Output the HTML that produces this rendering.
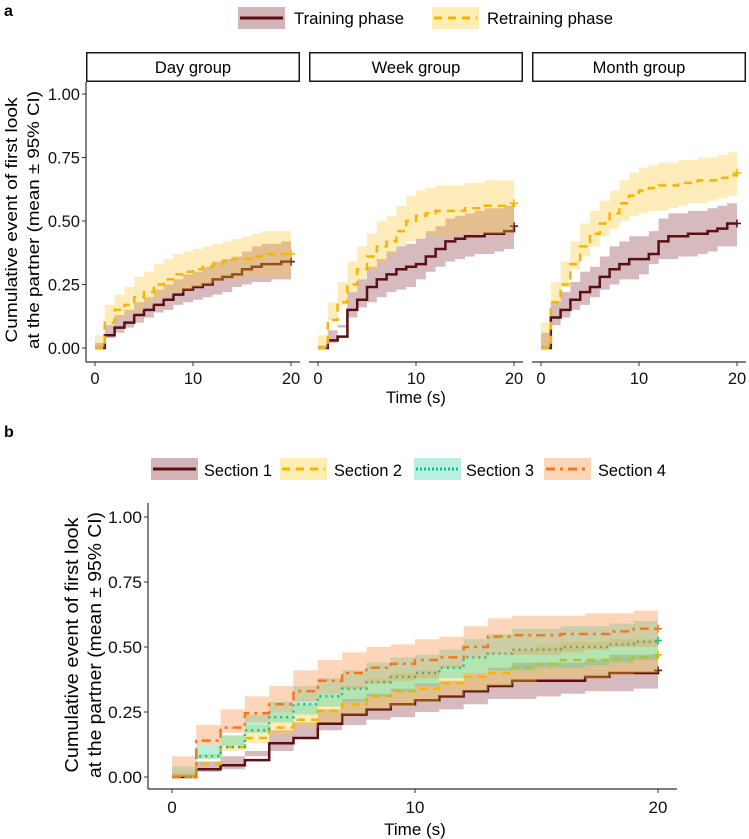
<!DOCTYPE html>
<html><head><meta charset="utf-8">
<style>
html,body{margin:0;padding:0;background:#fff;}
svg{display:block;font-family:"Liberation Sans",Arial,sans-serif;}
</style></head>
<body>
<svg id="chart" width="749" height="839" viewBox="0 0 749 839" xmlns="http://www.w3.org/2000/svg"></svg>
<script>
const times = [0,1,2,3,4,5,6,7,8,9,10,11,12,13,14,15,16,17,18,19,20];
const groupNames = ["Day group","Week group","Month group"];
const phaseNames = ["Training phase","Retraining phase"];
const yTicks = [0,0.25,0.5,0.75,1];
const yTickLabels = ["0.00","0.25","0.50","0.75","1.00"];
const xTicks = [0,10,20];
const xTickLabels = ["0","10","20"];

// Panel a: Day group
const dayTrain   = [0,0.05,0.08,0.10,0.13,0.15,0.17,0.19,0.21,0.23,0.24,0.25,0.27,0.28,0.29,0.31,0.32,0.33,0.33,0.34,0.34];
const dayTrainLo = [0,0.02,0.04,0.06,0.08,0.10,0.12,0.14,0.15,0.17,0.18,0.19,0.20,0.21,0.22,0.24,0.25,0.26,0.26,0.27,0.27];
const dayTrainHi = [0,0.09,0.13,0.15,0.18,0.20,0.23,0.25,0.27,0.29,0.30,0.32,0.34,0.35,0.36,0.38,0.40,0.41,0.41,0.42,0.42];
const dayRetr    = [0,0.10,0.15,0.17,0.20,0.22,0.25,0.27,0.29,0.30,0.31,0.32,0.33,0.34,0.35,0.35,0.36,0.37,0.37,0.37,0.37];
const dayRetrLo  = [0,0.05,0.09,0.11,0.13,0.15,0.17,0.19,0.21,0.22,0.23,0.24,0.25,0.26,0.27,0.27,0.28,0.28,0.28,0.28,0.28];
const dayRetrHi  = [0,0.17,0.21,0.24,0.28,0.30,0.33,0.35,0.37,0.38,0.39,0.40,0.41,0.42,0.43,0.44,0.45,0.46,0.46,0.46,0.46];
// Week group
const weekTrain   = [0,0.03,0.045,0.15,0.19,0.24,0.27,0.29,0.31,0.32,0.33,0.36,0.39,0.42,0.43,0.44,0.44,0.45,0.45,0.46,0.48];
const weekTrainLo = [0,0.01,0.02,0.08,0.12,0.16,0.18,0.20,0.22,0.23,0.24,0.27,0.30,0.32,0.34,0.35,0.36,0.37,0.37,0.38,0.39];
const weekTrainHi = [0,0.07,0.09,0.22,0.27,0.32,0.35,0.38,0.40,0.41,0.43,0.46,0.48,0.51,0.52,0.53,0.54,0.55,0.55,0.56,0.58];
const weekRetr    = [0,0.11,0.18,0.25,0.31,0.36,0.40,0.42,0.46,0.50,0.52,0.53,0.54,0.54,0.54,0.55,0.55,0.56,0.56,0.56,0.57];
const weekRetrLo  = [0,0.05,0.11,0.17,0.22,0.27,0.31,0.33,0.36,0.40,0.42,0.43,0.44,0.44,0.44,0.45,0.45,0.45,0.45,0.45,0.45];
const weekRetrHi  = [0,0.18,0.26,0.34,0.40,0.45,0.50,0.52,0.56,0.60,0.62,0.63,0.64,0.64,0.64,0.65,0.65,0.66,0.66,0.66,0.66];
// Month group
const monthTrain   = [0,0.12,0.15,0.19,0.22,0.24,0.28,0.31,0.33,0.35,0.35,0.37,0.42,0.44,0.44,0.45,0.45,0.46,0.47,0.49,0.49];
const monthTrainLo = [0,0.06,0.09,0.12,0.15,0.17,0.20,0.23,0.25,0.27,0.27,0.29,0.33,0.35,0.35,0.36,0.36,0.37,0.38,0.40,0.40];
const monthTrainHi = [0,0.18,0.22,0.26,0.30,0.32,0.36,0.40,0.42,0.44,0.44,0.46,0.51,0.53,0.53,0.54,0.54,0.55,0.56,0.57,0.57];
const monthRetr    = [0,0.18,0.25,0.33,0.40,0.45,0.49,0.53,0.57,0.60,0.62,0.63,0.64,0.64,0.65,0.65,0.66,0.66,0.67,0.68,0.69];
const monthRetrLo  = [0,0.10,0.17,0.24,0.31,0.36,0.40,0.44,0.47,0.50,0.52,0.53,0.54,0.54,0.55,0.56,0.57,0.57,0.58,0.59,0.60];
const monthRetrHi  = [0,0.26,0.34,0.42,0.49,0.54,0.58,0.62,0.66,0.69,0.71,0.72,0.73,0.73,0.74,0.74,0.75,0.75,0.76,0.77,0.77];

// Panel b: sections
const sectionNames = ["Section 1","Section 2","Section 3","Section 4"];
const s1   = [0,0.03,0.045,0.065,0.13,0.15,0.205,0.24,0.26,0.28,0.295,0.31,0.33,0.35,0.37,0.37,0.37,0.385,0.40,0.40,0.41];
const s1Lo = [0,0.01,0.02,0.03,0.08,0.10,0.15,0.18,0.20,0.22,0.23,0.25,0.26,0.28,0.30,0.30,0.31,0.32,0.33,0.33,0.34];
const s1Hi = [0,0.06,0.08,0.10,0.18,0.21,0.26,0.30,0.32,0.34,0.36,0.37,0.40,0.42,0.44,0.44,0.44,0.45,0.47,0.47,0.48];
const s2   = [0,0.05,0.115,0.15,0.19,0.22,0.255,0.28,0.31,0.33,0.34,0.36,0.385,0.40,0.42,0.435,0.45,0.45,0.455,0.46,0.47];
const s2Lo = [0,0.02,0.07,0.10,0.13,0.16,0.19,0.21,0.24,0.26,0.27,0.29,0.31,0.33,0.35,0.36,0.38,0.38,0.38,0.39,0.40];
const s2Hi = [0,0.09,0.16,0.20,0.25,0.28,0.32,0.35,0.38,0.40,0.41,0.43,0.46,0.47,0.49,0.51,0.52,0.52,0.53,0.53,0.54];
const s3   = [0,0.08,0.115,0.18,0.23,0.28,0.31,0.34,0.365,0.385,0.40,0.42,0.46,0.475,0.49,0.49,0.50,0.50,0.51,0.52,0.525];
const s3Lo = [0,0.04,0.07,0.12,0.17,0.21,0.24,0.27,0.29,0.31,0.33,0.35,0.38,0.40,0.41,0.41,0.42,0.42,0.43,0.44,0.45];
const s3Hi = [0,0.12,0.16,0.24,0.29,0.35,0.38,0.41,0.44,0.46,0.47,0.49,0.53,0.55,0.57,0.57,0.58,0.58,0.59,0.60,0.60];
const s4   = [0,0.14,0.19,0.245,0.28,0.33,0.37,0.40,0.42,0.435,0.45,0.46,0.50,0.54,0.545,0.545,0.55,0.55,0.56,0.57,0.57];
const s4Lo = [0,0.08,0.12,0.17,0.21,0.25,0.29,0.32,0.34,0.36,0.37,0.38,0.42,0.46,0.47,0.47,0.47,0.48,0.49,0.50,0.50];
const s4Hi = [0,0.20,0.26,0.31,0.35,0.41,0.45,0.48,0.50,0.51,0.53,0.54,0.58,0.61,0.62,0.62,0.62,0.63,0.63,0.64,0.64];

const NS = "http://www.w3.org/2000/svg";
const svg = document.getElementById("chart");
function mk(tag, attrs, parent){ const e=document.createElementNS(NS,tag); for(const k in attrs) e.setAttribute(k,attrs[k]); (parent||svg).appendChild(e); return e; }
function txt(s, attrs, parent){ const e=mk("text",attrs,parent); e.textContent=s; return e; }

function stepLine(ts, vs, xs, ys){
  let d="M"+xs(ts[0])+","+ys(vs[0]);
  for(let i=1;i<ts.length;i++){ d+=" H"+xs(ts[i])+" V"+ys(vs[i]); }
  return d;
}
function stepBand(ts, lo, hi, xs, ys){
  let d="M"+xs(ts[0])+","+ys(hi[0]);
  for(let i=1;i<ts.length;i++){ d+=" H"+xs(ts[i])+" V"+ys(hi[i]); }
  d+=" V"+ys(lo[ts.length-1]);
  for(let i=ts.length-1;i>0;i--){ d+=" V"+ys(lo[i])+" H"+xs(ts[i-1]); }
  d+=" V"+ys(lo[0])+" Z";
  return d;
}
function series(g, name, mean, lo, hi, xs, ys, fill, stroke, dash, lw){
  const band=mk("path",{d:stepBand(times,lo,hi,xs,ys),fill:fill,"fill-opacity":"0.35",stroke:"none"},g);
  
  
  const ln=mk("path",{d:stepLine(times,mean,xs,ys),fill:"none",stroke:stroke,"stroke-width":lw,"stroke-dasharray":dash},g);
  
  
  const n=times.length-1, cx=xs(times[n]), cy=ys(mean[n]);
  const pl=mk("path",{d:"M"+(cx-4)+","+cy+" H"+(cx+4)+" M"+cx+","+(cy-4)+" V"+(cy+4),stroke:stroke,"stroke-width":1.5},g);
  
  
}

const C_TR="#5a0f12", F_TR="#8a3a44", C_RE="#f7b500", F_RE="#fcc93a";
const C_S3="#12c08c", F_S3="#2ed6a6", C_S4="#f4781e", F_S4="#f98a3a";
const FA=16.5;

txt("a",{x:4,y:16,"font-size":16,"font-weight":"bold"});
txt("b",{x:4,y:437,"font-size":16,"font-weight":"bold"});

// Legend a
(function(){
  const g=mk("g",{});
  mk("rect",{x:238,y:7,width:47,height:22,fill:"#d3b4b8"},g);
  mk("line",{x1:240,y1:18,x2:283,y2:18,stroke:C_TR,"stroke-width":3},g);
  txt(phaseNames[0],{x:294,y:24,"font-size":FA,textLength:110,lengthAdjust:"spacingAndGlyphs"},g);
  mk("rect",{x:432,y:7,width:47,height:22,fill:"#feeeb4"},g);
  mk("line",{x1:434,y1:18,x2:477,y2:18,stroke:C_RE,"stroke-width":3,"stroke-dasharray":"8,6"},g);
  txt(phaseNames[1],{x:487,y:24,"font-size":FA,textLength:126,lengthAdjust:"spacingAndGlyphs"},g);
})();

// Panel a facets
const y0a=348, y1a=94;
const ysA=v=>y0a+(y1a-y0a)*v;
const facets=[
  {left:86,right:300,px0:95,train:[dayTrain,dayTrainLo,dayTrainHi],retr:[dayRetr,dayRetrLo,dayRetrHi]},
  {left:309,right:523,px0:318,train:[weekTrain,weekTrainLo,weekTrainHi],retr:[weekRetr,weekRetrLo,weekRetrHi]},
  {left:532,right:746,px0:541,train:[monthTrain,monthTrainLo,monthTrainHi],retr:[monthRetr,monthRetrLo,monthRetrHi]}
];
facets.forEach((f,i)=>{
  const key=groupNames[i].split(" ")[0].toLowerCase();
  const g=mk("g",{});
  const xs=t=>f.px0+t*(196/20);
  mk("rect",{x:f.left+0.75,y:52.75,width:f.right-f.left-1.5,height:28.5,fill:"#fff",stroke:"#1a1a1a","stroke-width":1.5,},g);
  txt(groupNames[i],{x:(f.left+f.right)/2,y:73,"font-size":FA,"text-anchor":"middle",},g);
  series(g,key+"-training",f.train[0],f.train[1],f.train[2],xs,ysA,F_TR,C_TR,"none",2.5);
  series(g,key+"-retraining",f.retr[0],f.retr[1],f.retr[2],xs,ysA,F_RE,C_RE,"8,6",2.5);
  mk("line",{x1:f.left,y1:362,x2:f.right,y2:362,stroke:"#333","stroke-width":1.2,},g);
  xTicks.forEach((t,j)=>{
    mk("line",{x1:xs(t),y1:362,x2:xs(t),y2:366,stroke:"#333","stroke-width":1},g);
    txt(xTickLabels[j],{x:xs(t),y:384,"font-size":FA,"text-anchor":"middle",fill:"#111"},g);
  });
  if(i===0){
    mk("line",{x1:86,y1:82,x2:86,y2:362,stroke:"#333","stroke-width":1.2,},g);
    yTicks.forEach((v,j)=>{
      mk("line",{x1:82,y1:ysA(v),x2:86,y2:ysA(v),stroke:"#333","stroke-width":1},g);
      txt(yTickLabels[j],{x:80,y:ysA(v)+6,"font-size":FA,"text-anchor":"end",fill:"#111"},g);
    });
  }
});
txt("Time (s)",{x:416,y:403,"font-size":FA,"text-anchor":"middle",});
(function(){
  const g=mk("g",{transform:"translate(0,220) rotate(-90)",});
  txt("Cumulative event of first look",{x:0,y:17,"font-size":17,"text-anchor":"middle",textLength:245,lengthAdjust:"spacingAndGlyphs"},g);
  txt("at the partner (mean ± 95% CI)",{x:0,y:39,"font-size":17,"text-anchor":"middle",textLength:258,lengthAdjust:"spacingAndGlyphs"},g);
})();

// Legend b
(function(){
  const g=mk("g",{});
  const items=[
    {x:151,tx:204,fill:"#d3b4b8",stroke:C_TR,dash:"none",w:3},
    {x:280,tx:334,fill:"#feeeb4",stroke:C_RE,dash:"8,6",w:3},
    {x:414,tx:466,fill:"#b8efe0",stroke:C_S3,dash:"2,2",w:3},
    {x:544,tx:598,fill:"#fdd6b8",stroke:C_S4,dash:"9,5,3,5",w:3}
  ];
  items.forEach((it,i)=>{
    mk("rect",{x:it.x,y:458,width:47,height:22,fill:it.fill},g);
    mk("line",{x1:it.x+2,y1:469,x2:it.x+45,y2:469,stroke:it.stroke,"stroke-width":it.w,"stroke-dasharray":it.dash},g);
    txt(sectionNames[i],{x:it.tx,y:476,"font-size":17,textLength:68,lengthAdjust:"spacingAndGlyphs"},g);
  });
})();

// Panel b
(function(){
  const g=mk("g",{});
  const xs=t=>172+t*(486/20);
  const ys=v=>777-260*v;
  series(g,"section-1",s1,s1Lo,s1Hi,xs,ys,F_TR,C_TR,"none",2.5);
  series(g,"section-2",s2,s2Lo,s2Hi,xs,ys,F_RE,C_RE,"8,6",2.5);
  series(g,"section-3",s3,s3Lo,s3Hi,xs,ys,F_S3,C_S3,"2,4",2.5);
  series(g,"section-4",s4,s4Lo,s4Hi,xs,ys,F_S4,C_S4,"9,5,3,5",2.5);
  mk("line",{x1:148,y1:503,x2:148,y2:789,stroke:"#333","stroke-width":1.2,},g);
  mk("line",{x1:148,y1:789,x2:677,y2:789,stroke:"#333","stroke-width":1.2,},g);
  yTicks.forEach((v,j)=>{
    mk("line",{x1:144,y1:ys(v),x2:148,y2:ys(v),stroke:"#333","stroke-width":1},g);
    txt(yTickLabels[j],{x:142,y:ys(v)+6,"font-size":17,"text-anchor":"end",fill:"#111",textLength:34,lengthAdjust:"spacingAndGlyphs"},g);
  });
  xTicks.forEach((t,j)=>{
    mk("line",{x1:xs(t),y1:789,x2:xs(t),y2:793,stroke:"#333","stroke-width":1},g);
    txt(xTickLabels[j],{x:xs(t),y:813,"font-size":17,"text-anchor":"middle",fill:"#111"},g);
  });
  txt("Time (s)",{x:415,y:835,"font-size":17,"text-anchor":"middle",});
  const gt=mk("g",{transform:"translate(60,645) rotate(-90)",});
  txt("Cumulative event of first look",{x:0,y:18,"font-size":18,"text-anchor":"middle",textLength:255,lengthAdjust:"spacingAndGlyphs"},gt);
  txt("at the partner (mean ± 95% CI)",{x:0,y:41,"font-size":18,"text-anchor":"middle",textLength:266,lengthAdjust:"spacingAndGlyphs"},gt);
})();
</script>
</body></html>
